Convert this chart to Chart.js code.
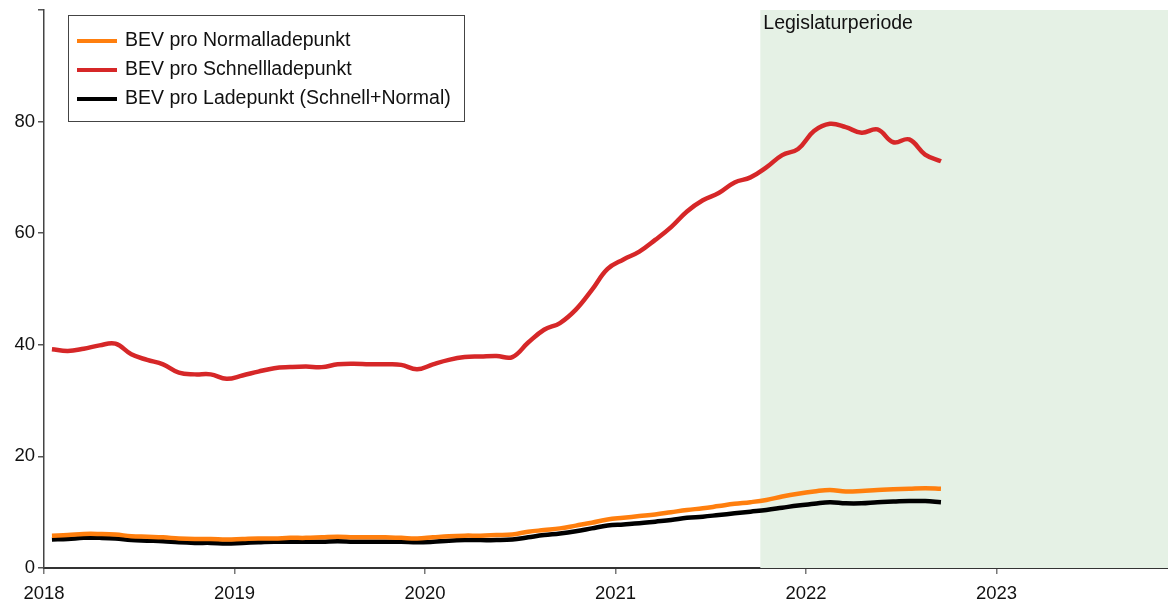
<!DOCTYPE html>
<html>
<head>
<meta charset="utf-8">
<script src="https://cdn.jsdelivr.net/npm/chart.js@4"></script>
<style>
  html, body { margin: 0; padding: 0; background: #fff; }
  canvas { display: block; }
</style>
</head>
<body>
<canvas id="bevChart" width="1168" height="604"></canvas>
<script>
// monthly values, first point = Jan 2018 (plotted mid-month)
const startYear = 2018;
const normalValues = [5.8, 5.9, 6.1, 6.1, 6.0, 5.7, 5.6, 5.5, 5.3, 5.2, 5.2, 5.1,
    5.2, 5.3, 5.3, 5.4, 5.4, 5.5, 5.6, 5.5, 5.5, 5.5, 5.4, 5.3,
    5.5, 5.7, 5.8, 5.8, 5.9, 6.0, 6.5, 6.8, 7.1, 7.6, 8.1, 8.7,
    9.0, 9.3, 9.6, 10.0, 10.4, 10.7, 11.1, 11.5, 11.8, 12.2, 12.8, 13.3,
    13.7, 14.0, 13.7, 13.8, 14.0, 14.1, 14.2, 14.3, 14.2];
const fastValues = [39.2, 38.9, 39.3, 39.9, 40.2, 38.3, 37.3, 36.5, 35.0, 34.7, 34.7, 33.9,
    34.5, 35.2, 35.8, 36.0, 36.1, 36.0, 36.5, 36.6, 36.5, 36.5, 36.4, 35.6,
    36.5, 37.3, 37.8, 37.9, 38.0, 37.8, 40.4, 42.7, 43.9, 46.3, 49.8, 53.6,
    55.3, 56.7, 58.8, 61.1, 63.9, 65.9, 67.2, 69.1, 70.0, 71.8, 74.0, 75.1,
    78.3, 79.6, 79.0, 78.0, 78.6, 76.3, 76.8, 74.1, 72.9];
const totalValues = [5.1, 5.2, 5.4, 5.4, 5.3, 5.0, 4.9, 4.8, 4.6, 4.5, 4.5, 4.4,
    4.5, 4.6, 4.7, 4.7, 4.7, 4.7, 4.8, 4.7, 4.7, 4.7, 4.7, 4.6,
    4.7, 4.9, 5.0, 5.0, 5.0, 5.1, 5.5, 5.9, 6.2, 6.6, 7.1, 7.6,
    7.8, 8.0, 8.3, 8.6, 9.0, 9.2, 9.5, 9.8, 10.1, 10.4, 10.8, 11.2,
    11.5, 11.8, 11.6, 11.6, 11.8, 11.9, 12.0, 12.0, 11.8];
const seriesLabels = ['BEV pro Normalladepunkt', 'BEV pro Schnellladepunkt', 'BEV pro Ladepunkt (Schnell+Normal)'];
const seriesColors = ['#ff7f0e', '#d62728', '#000000'];
const yTicks = [0, 20, 40, 60, 80, 100];
const xMin = 2018;
const xMax = 2023.9;
const legislatureStart = 2021.76;
const legislatureLabel = 'Legislaturperiode';

const FONT = '"Liberation Sans", Arial, sans-serif';

function toPoints(values) {
    return values.map((v, i) => ({ x: startYear + (i + 0.5) / 12, y: v }));
}

// green band for the legislative period + its label
const bandPlugin = {
    id: 'band',
    beforeDatasetsDraw(chart) {
        const { ctx, chartArea, scales } = chart;
        const x0 = scales.x.getPixelForValue(legislatureStart);
        ctx.save();
        ctx.fillStyle = '#e5f1e5';
        ctx.fillRect(x0, chartArea.top, chartArea.right - x0, chartArea.bottom - chartArea.top);
        ctx.fillStyle = '#111';
        ctx.font = '19.5px ' + FONT;
        ctx.textBaseline = 'middle';
        ctx.fillText(legislatureLabel, x0 + 3, chartArea.top + 14);
        ctx.restore();
    }
};

// boxed legend in the upper left corner
const boxLegendPlugin = {
    id: 'boxLegend',
    afterDraw(chart) {
        const { ctx, chartArea } = chart;
        const left = chartArea.left + 24;
        const top = chartArea.top + 5;
        ctx.save();
        ctx.fillStyle = '#fff';
        ctx.fillRect(left, top, 396, 106);
        ctx.strokeStyle = '#444';
        ctx.lineWidth = 1;
        ctx.strokeRect(left + 0.5, top + 0.5, 396, 106);
        ctx.font = '19.5px ' + FONT;
        ctx.textBaseline = 'middle';
        chart.data.datasets.forEach((ds, i) => {
            const y = top + 26 + i * 29;
            ctx.strokeStyle = ds.borderColor;
            ctx.lineWidth = 4;
            ctx.beginPath();
            ctx.moveTo(left + 9, y);
            ctx.lineTo(left + 49, y);
            ctx.stroke();
            ctx.fillStyle = '#111';
            ctx.fillText(ds.label, left + 57, y);
        });
        ctx.restore();
    }
};

const ctx = document.getElementById('bevChart').getContext('2d');
new Chart(ctx, {
    type: 'line',
    data: {
        datasets: [{
            label: seriesLabels[0],
            data: toPoints(normalValues),
            borderColor: seriesColors[0],
        }, {
            label: seriesLabels[1],
            data: toPoints(fastValues),
            borderColor: seriesColors[1],
        }, {
            label: seriesLabels[2],
            data: toPoints(totalValues),
            borderColor: seriesColors[2],
        }]
    },
    options: {
        responsive: false,
        animation: false,
        layout: { padding: { top: 10, right: 0, left: 0, bottom: 0 } },
        elements: {
            line: { borderWidth: 4.5, tension: 0.4, fill: false },
            point: { radius: 0 }
        },
        plugins: {
            legend: { display: false },
            tooltip: { enabled: false }
        },
        scales: {
            x: {
                type: 'linear',
                min: xMin,
                max: xMax,
                afterFit(scale) { scale.height = 36; scale.paddingLeft = 0; scale.paddingRight = 0; },
                grid: { drawOnChartArea: false, drawTicks: true, tickLength: 6, color: '#777', lineWidth: 1.5 },
                border: { display: true, color: '#333', width: 2 },
                ticks: {
                    stepSize: 1,
                    includeBounds: false,
                    maxRotation: 0,
                    autoSkip: false,
                    padding: 9,
                    color: '#111',
                    font: { family: FONT, size: 18.5 },
                    callback: (v) => String(v)
                }
            },
            y: {
                min: yTicks[0],
                max: yTicks[yTicks.length - 1],
                afterFit(scale) { scale.width = 44; scale.paddingTop = 0; scale.paddingBottom = 0; },
                afterBuildTicks(scale) { scale.ticks = yTicks.map(v => ({ value: v })); },
                grid: { drawOnChartArea: false, drawTicks: true, tickLength: 6, color: '#555', lineWidth: 1.5 },
                border: { display: true, color: '#444', width: 1.5 },
                ticks: {
                    padding: 3,
                    color: '#111',
                    font: { family: FONT, size: 18.5 },
                    callback: (v) => (v === 100 ? '' : String(v))
                }
            }
        }
    },
    plugins: [bandPlugin, boxLegendPlugin]
});
</script>
</body>
</html>
